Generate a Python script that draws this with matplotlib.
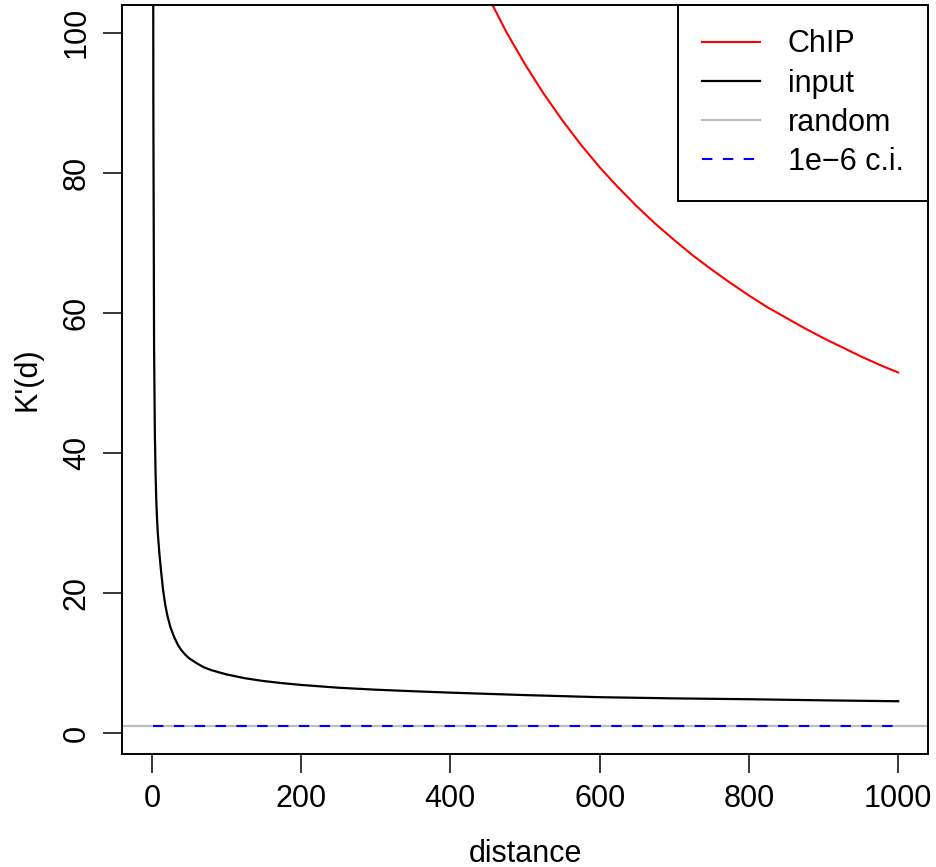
import matplotlib
matplotlib.use("Agg")
import matplotlib.pyplot as plt

plt.rcParams['font.family'] = ['Liberation Sans', 'DejaVu Sans']

# ChIP curve
chip_d = [425, 450, 475, 500, 525, 550, 575, 600, 625, 650, 675, 700, 725, 750,
          775, 800, 825, 850, 875, 900, 925, 950, 975, 1000]
chip_k = [111.0, 105.3, 100.1, 95.5, 91.3, 87.5, 84.0, 80.8, 77.9, 75.2, 72.7, 70.4,
          68.2, 66.2, 64.3, 62.5, 60.8, 59.3, 57.8, 56.4, 55.1, 53.8, 52.6, 51.5]

# input curve
input_d = [1, 2, 3, 4, 5, 6, 7, 8, 10, 12, 15, 18, 21, 25, 30, 35, 40, 45, 50, 60,
           70, 80, 100, 125, 150, 175, 200, 250, 300, 350, 400, 500, 600, 700, 800,
           900, 1000]
input_k = [200.0, 90.0, 55.0, 43.0, 37.0, 33.0, 30.5, 28.5, 25.8, 23.5, 20.5, 18.3,
           16.7, 15.1, 13.7, 12.6, 11.8, 11.2, 10.7, 10.0, 9.4, 9.0, 8.4, 7.85, 7.45,
           7.15, 6.9, 6.5, 6.22, 6.0, 5.8, 5.45, 5.15, 4.98, 4.86, 4.7, 4.57]

random_level = 1.0
ci_d = [1, 1000]
ci_k = [1.0, 1.0]

x_ticks = [0, 200, 400, 600, 800, 1000]
y_ticks = [0, 20, 40, 60, 80, 100]

fig = plt.figure(figsize=(9.37, 8.67), dpi=100)
ax = fig.add_axes([122 / 937, (867 - 754) / 867, (928 - 122) / 937, (754 - 5) / 867])

ax.plot(chip_d, chip_k, color='red', lw=1.5, label='ChIP')
ax.plot(input_d, input_k, color='black', lw=1.6, label='input')
ax.axhline(random_level, color='#bebebe', lw=1.6, label='random')
ax.plot(ci_d, ci_k, color='blue', lw=1.5, dashes=(5, 5), label='1e\u22126 c.i.')

ax.set_xlim(-40, 1040)
ax.set_ylim(-2.96, 103.96)
ax.set_xticks(x_ticks)
ax.set_yticks(y_ticks)
ax.tick_params(direction='out', length=13.7, width=1.1, labelsize=22, pad=8)
ax.tick_params(axis='y', labelrotation=90)
for lab in ax.get_yticklabels():
    lab.set_va('center')
for sp in ax.spines.values():
    sp.set_linewidth(1.4)

ax.set_xlabel('distance', fontsize=22)
ax.set_ylabel("K'(d)", fontsize=22)
ax.xaxis.set_label_coords(0.5, -0.113)
ax.yaxis.set_label_coords(-0.099, 0.5)

leg = ax.legend(loc='upper right', borderaxespad=0, fontsize=22, fancybox=False,
                edgecolor='black', framealpha=1, handlelength=1.9, handletextpad=0.9,
                labelspacing=0.3, borderpad=0.8)
leg.get_frame().set_linewidth(1.4)

fig.savefig('out.png', dpi=100)
